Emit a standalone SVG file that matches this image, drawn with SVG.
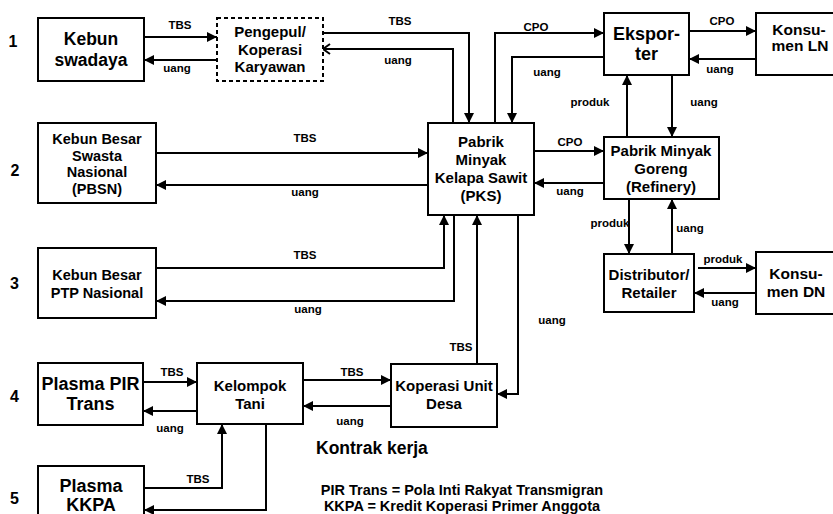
<svg xmlns="http://www.w3.org/2000/svg" width="833" height="514" viewBox="0 0 833 514">
<style>
text{font-family:"Liberation Sans",Arial,Helvetica,sans-serif;font-weight:bold;fill:#000}
.box{fill:#fff;stroke:#000;stroke-width:2}
.dash{stroke-dasharray:4,3}
.c{fill:none;stroke:#000;stroke-width:2;marker-end:url(#a)}
.p{fill:none;stroke:#000;stroke-width:2}
.m{text-anchor:middle}
.l{font-size:11.5px;text-anchor:middle}
.f15{font-size:15px}
.f145{font-size:14.5px}
.f155{font-size:15.5px}
.f18{font-size:18px}
.num{font-size:16px;text-anchor:middle}
</style>
<defs>
<marker id="a" viewBox="0 0 10 10" refX="10" refY="5" markerWidth="10" markerHeight="10" markerUnits="userSpaceOnUse" orient="auto">
<path d="M0,0 L10,5 L0,10 z" fill="#000"/>
</marker>
</defs>
<rect width="833" height="514" fill="#fff"/>

<g id="connectors">
<line class="c" x1="144" y1="37" x2="217" y2="37"/>
<line class="c" x1="217" y1="60" x2="144" y2="60"/>
<polyline class="c" points="323,33 469,33 469,123"/>
<polyline class="p" points="453,123 453,49 323,49"/>
<polyline class="p" points="330,44 323,49 330,54"/>
<polyline class="c" points="495,123 495,33 604,33"/>
<polyline class="c" points="604,57 512,57 512,123"/>
<line class="c" x1="689" y1="31" x2="756" y2="31"/>
<line class="c" x1="756" y1="59" x2="689" y2="59"/>
<line class="c" x1="627" y1="137" x2="627" y2="75"/>
<line class="c" x1="672" y1="75" x2="672" y2="137"/>
<line class="c" x1="534" y1="151" x2="604" y2="151"/>
<line class="c" x1="604" y1="183" x2="534" y2="183"/>
<line class="c" x1="156" y1="153" x2="428" y2="153"/>
<line class="c" x1="428" y1="185" x2="156" y2="185"/>
<polyline class="c" points="156,268 444,268 444,215"/>
<polyline class="c" points="454,215 454,301 156,301"/>
<line class="c" x1="477" y1="364" x2="477" y2="215"/>
<polyline class="c" points="518,215 518,394 497,394"/>
<line class="c" x1="629" y1="199" x2="629" y2="254"/>
<line class="c" x1="672" y1="254" x2="672" y2="199"/>
<line class="c" x1="698" y1="268" x2="756" y2="268"/>
<line class="c" x1="756" y1="293" x2="694" y2="293"/>
<line class="c" x1="143" y1="382" x2="197" y2="382"/>
<line class="c" x1="197" y1="411" x2="143" y2="411"/>
<line class="c" x1="303" y1="380" x2="391" y2="380"/>
<line class="c" x1="391" y1="406" x2="303" y2="406"/>
<polyline class="c" points="144,488 222,488 222,424"/>
<polyline class="c" points="266,424 266,510 144,510"/>

<text class="l" x="180" y="29">TBS</text>
<text class="l" x="177" y="71.5">uang</text>
<text class="l" x="400" y="24.5">TBS</text>
<text class="l" x="398" y="63.5">uang</text>
<text class="l" x="536" y="30.5">CPO</text>
<text class="l" x="547" y="76">uang</text>
<text class="l" x="722" y="24.5">CPO</text>
<text class="l" x="720" y="72.5">uang</text>
<text class="l" x="590" y="106">produk</text>
<text class="l" x="704" y="106">uang</text>
<text class="l" x="570" y="146">CPO</text>
<text class="l" x="570" y="195">uang</text>
<text class="l" x="305" y="142">TBS</text>
<text class="l" x="305" y="196">uang</text>
<text class="l" x="305" y="259">TBS</text>
<text class="l" x="308" y="313">uang</text>
<text class="l" x="461" y="351">TBS</text>
<text class="l" x="552" y="324">uang</text>
<text class="l" x="610" y="227">produk</text>
<text class="l" x="690" y="231.5">uang</text>
<text class="l" x="723" y="263">produk</text>
<text class="l" x="725" y="306">uang</text>
<text class="l" x="172" y="376">TBS</text>
<text class="l" x="170" y="432">uang</text>
<text class="l" x="352" y="376">TBS</text>
<text class="l" x="350" y="425">uang</text>
<text class="l" x="198" y="482.5">TBS</text>
</g>

<g id="n-kebun-swadaya">
<rect class="box" x="38" y="18" width="106" height="63"/>
<text class="m" style="font-size:17.5px" x="91" y="45">Kebun</text>
<text class="m" style="font-size:17.5px" x="91" y="65.5">swadaya</text>
</g>
<g id="n-pengepul">
<rect class="box dash" x="217" y="18" width="106" height="63"/>
<text class="m f15" x="270" y="37">Pengepul/</text>
<text class="m f15" x="270" y="54.5">Koperasi</text>
<text class="m f15" x="270" y="72">Karyawan</text>
</g>
<g id="n-pks">
<rect class="box" x="428" y="123" width="106" height="92"/>
<text class="m f15" x="481" y="147">Pabrik</text>
<text class="m f15" x="481" y="165">Minyak</text>
<text class="m f15" x="481" y="183">Kelapa Sawit</text>
<text class="m f15" x="481" y="201">(PKS)</text>
</g>
<g id="n-eksporter">
<rect class="box" x="604" y="13" width="85" height="62"/>
<text class="m f18" x="646.5" y="39.5">Ekspor-</text>
<text class="m f18" x="646.5" y="59.5">ter</text>
</g>
<g id="n-konsumen-ln">
<rect class="box" x="756" y="13" width="86" height="62"/>
<text class="m f155" x="799" y="34.5">Konsu-</text>
<text class="m f155" x="800" y="51">men LN</text>
</g>
<g id="n-refinery">
<rect class="box" x="604" y="137" width="115" height="62"/>
<text class="m f15" x="661" y="155.5">Pabrik Minyak</text>
<text class="m f15" x="661" y="173.5">Goreng</text>
<text class="m f15" x="661" y="191.5">(Refinery)</text>
</g>
<g id="n-pbsn">
<rect class="box" x="38" y="123" width="118" height="80"/>
<text class="m f145" x="97" y="143.5">Kebun Besar</text>
<text class="m f145" x="97" y="160.5">Swasta</text>
<text class="m f145" x="97" y="177">Nasional</text>
<text class="m f145" x="97" y="193.5">(PBSN)</text>
</g>
<g id="n-ptp">
<rect class="box" x="38" y="248" width="118" height="70"/>
<text class="m f145" x="97" y="279.5">Kebun Besar</text>
<text class="m f145" x="97" y="297.5">PTP Nasional</text>
</g>
<g id="n-distributor">
<rect class="box" x="604" y="254" width="90" height="58"/>
<text class="m f15" x="649" y="279.5">Distributor/</text>
<text class="m f15" x="649" y="297.5">Retailer</text>
</g>
<g id="n-konsumen-dn">
<rect class="box" x="756" y="252" width="86" height="62"/>
<text class="m f155" x="796" y="278.5">Konsu-</text>
<text class="m f155" x="796" y="296.5">men DN</text>
</g>
<g id="n-plasma-pir">
<rect class="box" x="38" y="363" width="105" height="62"/>
<text class="m f18" x="90.5" y="390">Plasma PIR</text>
<text class="m f18" x="90.5" y="410">Trans</text>
</g>
<g id="n-kelompok-tani">
<rect class="box" x="197" y="363" width="106" height="61"/>
<text class="m f15" x="250" y="391">Kelompok</text>
<text class="m f15" x="250" y="408.5">Tani</text>
</g>
<g id="n-kud">
<rect class="box" x="391" y="364" width="106" height="63"/>
<text class="m f15" x="444" y="390.5">Koperasi Unit</text>
<text class="m f15" x="444" y="408.5">Desa</text>
</g>
<g id="n-plasma-kkpa">
<rect class="box" x="38" y="466" width="106" height="64"/>
<text class="m f18" x="91" y="491.5">Plasma</text>
<text class="m f18" x="91" y="511">KKPA</text>
</g>

<g id="row-numbers">
<text class="num" x="13" y="47">1</text>
<text class="num" x="15" y="176">2</text>
<text class="num" x="14.5" y="289">3</text>
<text class="num" x="14.5" y="402">4</text>
<text class="num" x="14.5" y="504">5</text>
</g>

<g id="notes">
<text style="font-size:17.5px" x="316" y="453.5">Kontrak kerja</text>
<text class="m f145" x="462" y="494.5">PIR Trans = Pola Inti Rakyat Transmigran</text>
<text class="m f145" x="462" y="510.5">KKPA = Kredit Koperasi Primer Anggota</text>
</g>
</svg>
